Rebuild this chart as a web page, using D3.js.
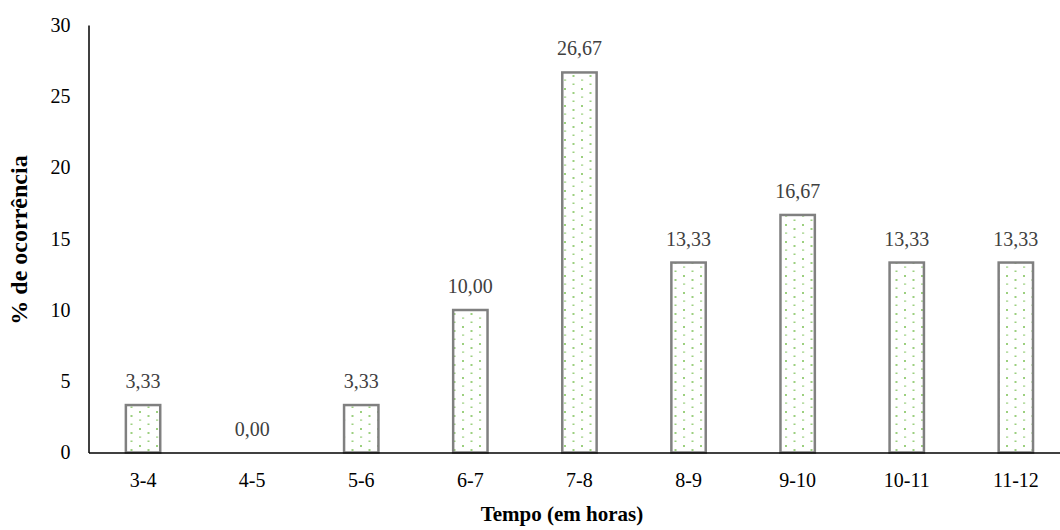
<!DOCTYPE html>
<html>
<head>
<meta charset="utf-8">
<script src="https://cdn.jsdelivr.net/npm/d3@7"></script>
<style>
  body { margin: 0; background: #fff; }
  text { font-family: "Liberation Serif", "Times New Roman", serif; }
</style>
</head>
<body>
<script>
var svg_width = 1060;
var svg_height = 530;

var categories = ['3-4', '4-5', '5-6', '6-7', '7-8', '8-9', '9-10', '10-11', '11-12'];
var values = [3.33, 0.00, 3.33, 10.00, 26.67, 13.33, 16.67, 13.33, 13.33];
var yticks = [0, 5, 10, 15, 20, 25, 30];

var plot_left = 88.5, plot_top = 25, plot_bottom = 452.5;
var band = 109.1;

var svg = d3.select('body').append('svg')
  .attr('width', svg_width)
  .attr('height', svg_height);

// dotted fill like the office "5%" pattern
var defs = svg.append('defs');
var pat = defs.append('pattern')
  .attr('id', 'dots')
  .attr('patternUnits', 'userSpaceOnUse')
  .attr('width', 17).attr('height', 17);
pat.append('rect').attr('width', 17).attr('height', 17).attr('fill', '#fff');
[[3, 3], [3, 11.5], [11.5, 7], [11.5, 15.5]].forEach(function(p, i) {
  pat.append('rect')
    .attr('x', p[0]).attr('y', p[1])
    .attr('width', i == 1 ? 2.2 : 2).attr('height', i == 1 ? 1.2 : 2)
    .attr('fill', '#9cd07f');
});

var xscale = d3.scaleBand().domain(categories)
  .range([plot_left, plot_left + band * categories.length])
  .paddingInner(0.685).paddingOuter(0.3425);
var yscale = d3.scaleLinear().domain([0, 30]).range([plot_bottom, plot_top]);

// bars
svg.selectAll('rect.bar').data(values).enter().append('rect')
  .attr('class', 'bar')
  .attr('x', function(d, i) { return xscale(categories[i]); })
  .attr('y', function(d) { return yscale(d); })
  .attr('width', xscale.bandwidth())
  .attr('height', function(d) { return plot_bottom - yscale(d); })
  .attr('fill', 'url(#dots)')
  .attr('stroke', '#808080')
  .attr('stroke-width', 2.5)
  .style('display', function(d) { return d > 0 ? null : 'none'; });

// value labels
svg.selectAll('text.val').data(values).enter().append('text')
  .attr('class', 'val')
  .attr('x', function(d, i) { return xscale(categories[i]) + xscale.bandwidth() / 2; })
  .attr('y', function(d) { return yscale(d) - 17; })
  .attr('text-anchor', 'middle')
  .attr('font-size', 20)
  .attr('fill', '#404040')
  .text(function(d) { return d.toFixed(2).replace('.', ','); });

// axes
var yaxis = d3.axisLeft(yscale).tickValues(yticks).tickSize(0).tickPadding(18);
var gy = svg.append('g').attr('transform', 'translate(' + plot_left + ',0)').call(yaxis);
gy.select('.domain').attr('stroke', '#000').attr('stroke-width', 1.5);
gy.selectAll('text').attr('font-size', 20).attr('fill', '#000');

var xaxis = d3.axisBottom(xscale).tickSize(0).tickPadding(20);
var gx = svg.append('g').attr('transform', 'translate(0,' + plot_bottom + ')').call(xaxis);
gx.select('.domain').attr('stroke', '#000').attr('stroke-width', 1.5);
gx.selectAll('text').attr('font-size', 20).attr('fill', '#000');

svg.append('text')
  .attr('x', 562).attr('y', 521)
  .attr('text-anchor', 'middle')
  .attr('font-size', 21).attr('font-weight', 'bold')
  .text('Tempo (em horas)');

svg.append('text')
  .attr('transform', 'translate(27,240) rotate(-90)')
  .attr('text-anchor', 'middle')
  .attr('font-size', 24).attr('font-weight', 'bold')
  .text('% de ocorrência');
</script>
</body>
</html>
